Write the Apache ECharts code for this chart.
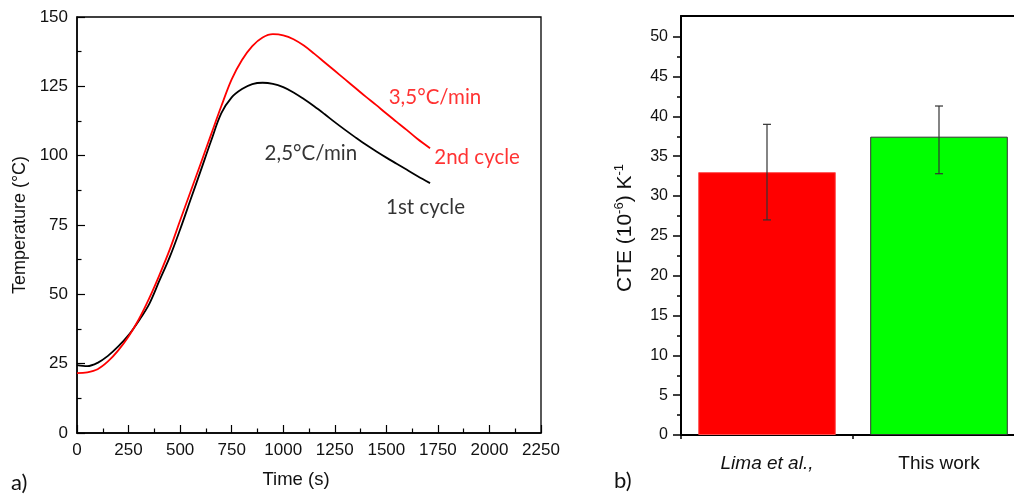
<!DOCTYPE html>
<html>
<head>
<meta charset="utf-8">
<script src="https://cdn.jsdelivr.net/npm/echarts@6/dist/echarts.min.js"></script>
<style>
html,body{margin:0;padding:0;background:#fff;}
#c{width:1014px;height:495px;}
</style>
</head>
<body>
<div id="c"></div>
<script>
// ---- Panel a) data: time (s) vs temperature (°C) ----
const cycle1 = [
  [0,24.5],[50,24.1],[100,25.3],[150,27.8],[200,31.2],[250,35.3],[300,40.5],[350,46.5],
  [400,55],[450,63.5],[500,73.4],[550,84],[600,94.6],[650,105.3],[700,115.3],[750,121],
  [800,124],[850,125.8],[900,126.3],[950,125.9],[1000,124.7],[1050,122.8],[1100,120.4],
  [1150,117.8],[1200,115.0],[1250,112.1],[1300,109.3],[1350,106.6],[1400,104.0],[1450,101.6],
  [1500,99.3],[1550,97.1],[1600,94.9],[1650,92.7],[1712,90.1]
];
const cycle2 = [
  [0,21.6],[50,21.9],[100,23.0],[150,25.8],[200,29.8],[250,34.8],[300,41],[350,48.5],
  [400,57],[450,66.2],[500,76.6],[550,86.9],[600,97.2],[650,107.6],[700,117.9],[750,127.5],
  [800,134.5],[850,139.5],[900,142.6],[950,143.8],[1000,143.4],[1050,142],[1100,139.7],
  [1150,136.8],[1200,133.7],[1250,130.6],[1300,127.5],[1350,124.4],[1400,121.3],[1450,118.3],
  [1500,115.2],[1550,112.2],[1600,109.2],[1650,106.1],[1712,102.7]
];
const annotTexts = ['3,5°C/min','2nd cycle','2,5°C/min','1st cycle'];
const annotCoords = [[1736,121.1],[1940,99.5],[1134,101],[1690,81.5]];
const annotColors = ['#ff0000','#ff0000','#000000','#000000'];

// ---- Panel b) data: CTE bars ----
const cteCategories = ['Lima et al.,','This work'];
const cteValues = [33.0, 37.45];
const cteErrLow = [27.0, 32.8];
const cteErrHigh = [39.0, 41.3];
const cteColors = ['#ff0000','#00ff00'];
const cteMajorTicks = [0,5,10,15,20,25,30,35,40,45,50];
const cteMinorTicks = [2.5,7.5,12.5,17.5,22.5,27.5,32.5,37.5,42.5,47.5];

const chart = echarts.init(document.getElementById('c'), null, {renderer:'canvas'});
const tickFont = {fontFamily:'Liberation Sans, Arial, sans-serif', color:'#111'};
const plain = v => String(v);

const option = {
  animation:false,
  backgroundColor:'#fff',
  grid:[
    {left:77, top:17, width:464, height:416, show:true, borderColor:'#000', borderWidth:1.3,
     backgroundColor:'transparent', outerBoundsMode:'none', containLabel:false},
    {left:681, top:16, width:344, height:419, outerBoundsMode:'none', containLabel:false}
  ],
  xAxis:[
    {type:'value', gridIndex:0, min:0, max:2250, interval:250,
     axisLine:{show:true, lineStyle:{color:'#000', width:1.5}},
     axisTick:{show:true, inside:true, length:8, lineStyle:{color:'#000', width:1.2}},
     minorTick:{show:true, splitNumber:2, length:4.5, lineStyle:{color:'#000', width:1.2}},
     splitLine:{show:false},
     axisLabel:Object.assign({fontSize:17, margin:9, formatter:plain}, tickFont)},
    {type:'category', gridIndex:1, data:[{value:cteCategories[0], textStyle:{fontStyle:'italic'}}, cteCategories[1]],
     boundaryGap:true,
     axisLine:{show:true, lineStyle:{color:'#000', width:2}},
     axisTick:{show:true, inside:false, length:4, lineStyle:{color:'#000', width:1.5}},
     axisLabel:Object.assign({fontSize:19, margin:19}, tickFont)},
    {type:'category', gridIndex:1, data:cteCategories, boundaryGap:true,
     axisLine:{show:false},
     axisTick:{show:true, alignWithLabel:true, inside:false, length:8, lineStyle:{color:'#000', width:1.5}},
     axisLabel:{show:false}},
    {type:'category', gridIndex:1, position:'top', data:cteCategories,
     axisLine:{show:true, lineStyle:{color:'#000', width:2}},
     axisTick:{show:false}, axisLabel:{show:false}}
  ],
  yAxis:[
    {type:'value', gridIndex:0, min:0, max:150, interval:25,
     axisLine:{show:true, lineStyle:{color:'#000', width:1.5}},
     axisTick:{show:true, inside:true, length:8, lineStyle:{color:'#000', width:1.2}},
     minorTick:{show:true, splitNumber:2, length:4.5, lineStyle:{color:'#000', width:1.2}},
     splitLine:{show:false},
     axisLabel:Object.assign({fontSize:17, margin:9, formatter:plain}, tickFont)},
    {type:'value', gridIndex:1, min:0, max:52.6, interval:5,
     axisLine:{show:true, lineStyle:{color:'#000', width:2}},
     axisTick:{show:true, inside:false, length:8, customValues:cteMajorTicks, lineStyle:{color:'#000', width:1.5}},
     splitLine:{show:false},
     axisLabel:Object.assign({fontSize:16, margin:13, customValues:cteMajorTicks, formatter:plain}, tickFont)},
    {type:'value', gridIndex:1, min:0, max:52.6, position:'left', offset:0,
     axisLine:{show:false},
     axisTick:{show:true, inside:false, length:4, customValues:cteMinorTicks, lineStyle:{color:'#000', width:1.5}},
     splitLine:{show:false},
     axisLabel:{show:false}}
  ],
  series:[
    {name:'1st cycle', type:'line', xAxisIndex:0, yAxisIndex:0, data:cycle1, smooth:0.35,
     showSymbol:false, lineStyle:{color:'#000', width:1.8}, z:3},
    {name:'2nd cycle', type:'line', xAxisIndex:0, yAxisIndex:0, data:cycle2, smooth:0.35,
     showSymbol:false, lineStyle:{color:'#ff0000', width:1.8}, z:4},
    {name:'annotations', type:'scatter', xAxisIndex:0, yAxisIndex:0, symbolSize:0, silent:true,
     data:annotCoords.map((c,i)=>({value:c, label:{show:true, position:'inside', formatter:annotTexts[i],
       color:annotColors[i], fontSize:20.5, fontFamily:'Lato, Open Sans, sans-serif'}}))},
    {name:'CTE', type:'bar', xAxisIndex:1, yAxisIndex:1, barWidth:'80%',
     data:cteValues.map((v,i)=>({value:v, itemStyle:{color:cteColors[i],
       borderColor: i===0 ? '#ff5050' : '#333', borderWidth:1}}))},
    {name:'error', type:'custom', xAxisIndex:1, yAxisIndex:1, z:5,
     data:cteValues.map((v,i)=>[i, cteErrLow[i], cteErrHigh[i]]),
     renderItem:function(params, api){
       const lo = api.coord([api.value(0), api.value(1)]);
       const hi = api.coord([api.value(0), api.value(2)]);
       const w = 4;
       const st = {stroke:'#333', lineWidth:1.2};
       return {type:'group', children:[
         {type:'line', shape:{x1:lo[0], y1:lo[1], x2:hi[0], y2:hi[1]}, style:st},
         {type:'line', shape:{x1:lo[0]-w, y1:lo[1], x2:lo[0]+w, y2:lo[1]}, style:st},
         {type:'line', shape:{x1:hi[0]-w, y1:hi[1], x2:hi[0]+w, y2:hi[1]}, style:st}
       ]};
     }}
  ],
  graphic:[
    {type:'text', x:20, y:225, rotation:Math.PI/2, style:{text:'Temperature (°C)', fontSize:18,
      fontFamily:'Liberation Sans, Arial, sans-serif', fill:'#111', align:'center', verticalAlign:'middle'}},
    {type:'text', x:296, y:480, style:{text:'Time (s)', fontSize:18.5,
      fontFamily:'Liberation Sans, Arial, sans-serif', fill:'#111', align:'center', verticalAlign:'middle'}},
    {type:'text', x:625, y:228, rotation:Math.PI/2, style:{text:'CTE (10{sup|-6}) K{sup|-1}', fontSize:21,
      fontFamily:'Liberation Sans, Arial, sans-serif', fill:'#111', align:'center', verticalAlign:'middle',
      rich:{sup:{fontSize:13, verticalAlign:'top', lineHeight:24, fontFamily:'Liberation Sans, Arial, sans-serif', fill:'#111'}}}},
    {type:'text', x:11, y:483, style:{text:'a)', fontSize:22, fontFamily:'Lato, Open Sans, sans-serif',
      fill:'#111', verticalAlign:'middle'}},
    {type:'text', x:614, y:481, style:{text:'b)', fontSize:22, fontFamily:'Lato, Open Sans, sans-serif',
      fill:'#111', verticalAlign:'middle'}}
  ]
};
chart.setOption(option);
</script>
</body>
</html>
